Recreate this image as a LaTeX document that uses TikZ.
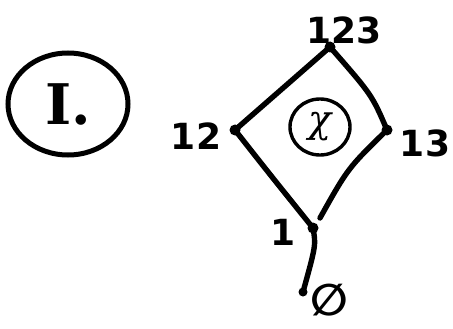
\documentclass[tikz,border=0pt]{standalone}
\usepackage{fontspec}
\setmainfont{DejaVu Sans}
\newfontfamily\serifhand{DejaVu Serif}
\usetikzlibrary{shapes.geometric}
\begin{document}
\begin{tikzpicture}[x=1pt,y=-1pt,
  edge/.style={line width=5.4pt,line cap=round,line join=round,black},
  vert/.style={circle,fill=black,inner sep=0pt,minimum size=11pt},
  lbl/.style={font=\fontsize{36}{38}\selectfont\bfseries,inner sep=0pt},
  ring/.style={draw,line width=3.4pt,ellipse}]
\useasboundingbox (0,0) rectangle (453,329);
\fill[white] (0,0) rectangle (453,329);
% vertices
\node[vert] (v123) at (330,47) {};
\node[vert] (v12) at (235,130) {};
\node[vert] (v13) at (387,130) {};
\node[vert] (v1) at (313,228) {};
\node[vert,minimum size=9pt] (v0) at (303,292) {};
% labels
\node[lbl] (t123) at (344,30) {123};
\node[lbl] (t12) at (196,136) {12};
\node[lbl] (t13) at (425,143) {13};
\node[lbl] (t1) at (283,232) {1};
\node[font=\fontsize{44}{46}\selectfont\bfseries,inner sep=0pt] (t0) at (329,300) {∅};
% edges
\draw[edge] (v123.center) -- (v12.center);
\draw[edge] (v123.center) .. controls (372,95) .. (v13.center);
\draw[edge] (v12.center) .. controls (268,172) .. (v1.center);
\draw[edge] (v13.center) .. controls (348,168) .. (320,218);
\draw[edge] (v1.center) .. controls (316,245) .. (v0.center);
% circled chi
\node[ring,minimum width=60pt,minimum height=56pt,inner sep=0pt,font=\serifhand\itshape\fontsize{38}{40}\selectfont] (chi) at (320,127) {χ};
% circled I.
\node[ring,line width=5pt,minimum width=120pt,minimum height=102pt,inner sep=0pt,font=\serifhand\bfseries\fontsize{56}{58}\selectfont] (one) at (68,104) {I.};
\end{tikzpicture}
\end{document}
